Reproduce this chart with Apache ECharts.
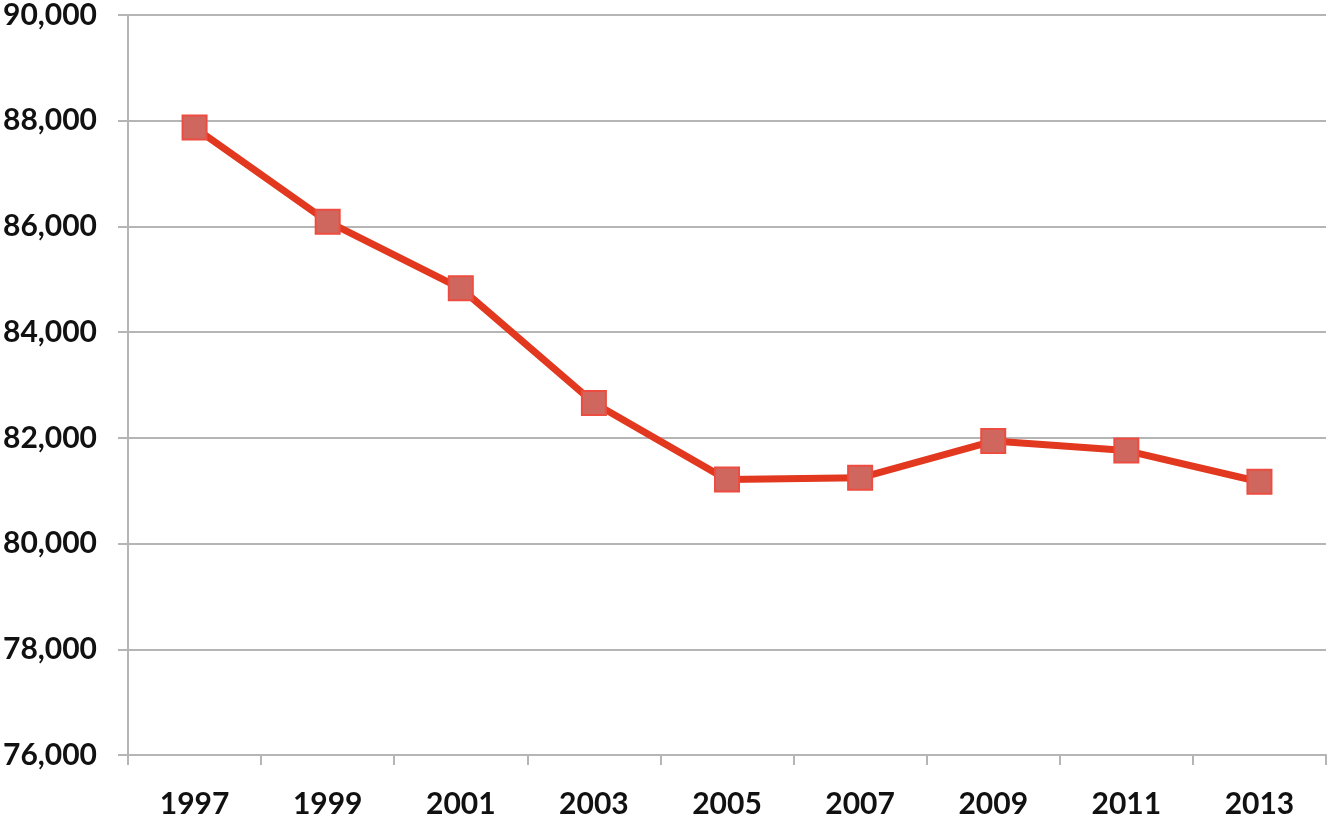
<!DOCTYPE html>
<html><head><meta charset="utf-8">
<script src="https://cdn.jsdelivr.net/npm/echarts@6/dist/echarts.min.js"></script>
<style>html,body{margin:0;padding:0;background:#fff}#c{width:1333px;height:825px}</style>
</head><body><div id="c"></div>
<script>
const categories = ['1997','1999','2001','2003','2005','2007','2009','2011','2013'];
const values = [87870, 86090, 84830, 82660, 81210, 81245, 81940, 81760, 81170];

const chart = echarts.init(document.getElementById('c'));
chart.setOption({
  animation: false,
  grid: {left: 128, right: 7, top: 13, bottom: 70},
  xAxis: {
    type: 'category', data: categories, boundaryGap: true,
    axisLine: {lineStyle: {color: '#b5b5b5', width: 2}},
    axisTick: {show: true, length: 10, lineStyle: {color: '#b5b5b5', width: 2}},
    axisLabel: {color: '#111', fontSize: 30, fontFamily: 'Lato', fontWeight: 'bold', margin: 34}
  },
  yAxis: {
    type: 'value', min: 76000, max: 90000, interval: 2000,
    axisLine: {show: true, lineStyle: {color: '#b5b5b5', width: 2}},
    axisTick: {show: true, length: 10, lineStyle: {color: '#b5b5b5', width: 2}},
    splitLine: {lineStyle: {color: '#b5b5b5', width: 2}},
    axisLabel: {color: '#111', fontSize: 30, fontFamily: 'Lato', fontWeight: 'bold', margin: 31,
      formatter: v => v.toLocaleString('en-US')}
  },
  series: [{
    type: 'line', data: values,
    lineStyle: {color: '#e2381f', width: 7},
    symbol: 'rect', symbolSize: 24,
    itemStyle: {color: '#d0675f', borderColor: '#ec4d40', borderWidth: 2}
  }]
});
</script></body></html>
